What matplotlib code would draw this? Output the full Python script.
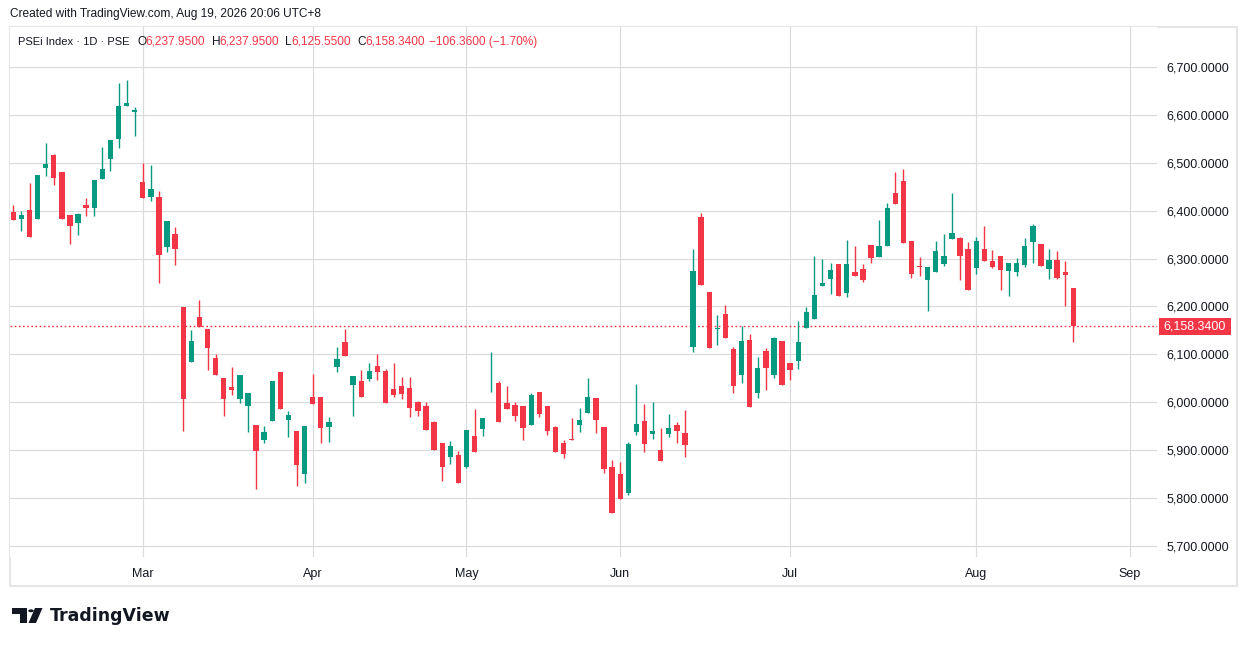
import matplotlib
matplotlib.use("Agg")
import matplotlib.pyplot as plt
from matplotlib.patches import Rectangle, Circle, Polygon
from matplotlib.transforms import blended_transform_factory
from matplotlib.ticker import FuncFormatter

# ---------------- data (PSEi Index daily candles, Feb 2026 - Aug 19 2026) ----------------
opens = [6398, 6382, 6402, 6382, 6490, 6517, 6481, 6390, 6374, 6412, 6405, 6467, 6507, 6549, 6619, 6605,
         6460, 6428, 6429, 6324, 6352, 6199, 6085, 6178, 6153, 6092, 6051, 6032, 6006, 5993, 5953, 5922,
         5960, 6063, 5964, 5940, 5851,
         6011, 6011, 5949, 6074, 6125, 6036, 6044, 6049, 6075, 6065, 6028, 6033, 6029, 6000, 5992, 5958,
         5915, 5886, 5890,
         5865, 5929, 5944, 6033, 6040, 5998, 5994, 5992, 5953, 6022, 5992, 5949, 5915, 5924, 5953, 5978,
         6009, 5949, 5865,
         5851, 5810, 5939, 5961, 5933, 5901, 5933, 5953, 5936, 6116, 6386, 6230, 6153, 6184, 6111, 6058,
         6130, 6020, 6107, 6058, 6128,
         6082, 6087, 6155, 6174, 6243, 6258, 6288, 6228, 6271, 6278, 6328, 6303, 6326, 6436, 6461, 6336,
         6284, 6256, 6272, 6289, 6340, 6342, 6319,
         6281, 6321, 6296, 6306, 6274, 6271, 6287, 6335, 6331, 6279, 6298, 6273, 6237.95]
highs = [6412, 6400, 6458, 6475, 6542, 6519, 6481, 6390, 6396, 6427, 6465, 6533, 6548, 6667, 6673, 6617,
         6499, 6496, 6442, 6379, 6365, 6199, 6151, 6213, 6153, 6100, 6051, 6074, 6057, 6019, 5953, 5951,
         6044, 6063, 5982, 5940, 5951,
         6059, 6011, 5969, 6115, 6152, 6054, 6067, 6081, 6100, 6069, 6081, 6052, 6052, 6002, 6000, 5960,
         5915, 5919, 5898,
         5942, 5986, 5967, 6106, 6044, 6033, 6000, 5992, 6020, 6022, 5992, 5951, 5921, 5967, 5988, 6051,
         6009, 5949, 5880,
         5876, 5917, 6038, 5996, 6001, 5946, 5976, 5959, 5984, 6321, 6396, 6231, 6182, 6203, 6115, 6159,
         6142, 6094, 6113, 6136, 6128,
         6082, 6169, 6199, 6305, 6299, 6290, 6288, 6338, 6326, 6288, 6328, 6380, 6417, 6480, 6488, 6336,
         6303, 6282, 6336, 6351, 6436, 6346, 6334,
         6346, 6369, 6317, 6306, 6290, 6302, 6342, 6373, 6331, 6319, 6315, 6296, 6237.95]
lows = [6380, 6358, 6346, 6382, 6473, 6454, 6382, 6330, 6349, 6388, 6388, 6467, 6482, 6530, 6619, 6555,
        6426, 6421, 6249, 6313, 6286, 5941, 6085, 6158, 6068, 6058, 5972, 6016, 5999, 5937, 5818, 5914,
        5960, 5985, 5928, 5826, 5831,
        5996, 5914, 5918, 6064, 6097, 5972, 6011, 6044, 6046, 5999, 6011, 6007, 5969, 5972, 5942, 5901,
        5836, 5871, 5832,
        5863, 5896, 5930, 6021, 5959, 5986, 5961, 5921, 5953, 5970, 5931, 5897, 5883, 5922, 5939, 5978,
        5935, 5853, 5768,
        5799, 5806, 5931, 5897, 5924, 5878, 5928, 5914, 5885, 6105, 6245, 6114, 6120, 6135, 6020, 6041,
        5991, 6008, 6026, 6051, 6037,
        6047, 6070, 6155, 6174, 6243, 6226, 6222, 6220, 6264, 6251, 6291, 6303, 6326, 6414, 6333, 6260,
        6264, 6191, 6272, 6285, 6340, 6256, 6235,
        6268, 6294, 6280, 6234, 6221, 6263, 6282, 6290, 6285, 6258, 6258, 6202, 6125.55]
closes = [6380, 6390, 6346, 6475, 6498, 6469, 6382, 6367, 6394, 6405, 6465, 6487, 6548, 6619, 6625, 6610,
          6426, 6446, 6307, 6379, 6319, 6006, 6128, 6158, 6114, 6058, 6006, 6026, 6057, 6019, 5899, 5938,
          6044, 5985, 5974, 5870, 5951,
          5996, 5947, 5959, 6090, 6097, 6054, 6011, 6065, 6063, 5999, 6015, 6017, 5988, 5982, 5942, 5901,
          5865, 5908, 5832,
          5942, 5896, 5967, 6035, 5959, 5986, 5972, 5946, 6015, 5976, 5941, 5897, 5893, 5922, 5963, 6011,
          5964, 5860, 5768,
          5799, 5913, 5955, 5912, 5940, 5878, 5946, 5941, 5910, 6274, 6245, 6114, 6155, 6135, 6035, 6128,
          5991, 6071, 6072, 6134, 6037,
          6068, 6126, 6188, 6224, 6249, 6276, 6222, 6288, 6264, 6256, 6301, 6326, 6405, 6414, 6333, 6268,
          6283, 6282, 6315, 6305, 6353, 6305, 6235,
          6336, 6294, 6283, 6276, 6290, 6290, 6327, 6367, 6285, 6298, 6260, 6264.70, 6158.34]

month_labels = ["Mar", "Apr", "May", "Jun", "Jul", "Aug", "Sep"]
month_pos = [16, 37, 56, 75, 96, 119, 138]          # bar index of the first session of each month
price_ticks = [5700, 5800, 5900, 6000, 6100, 6200, 6300, 6400, 6500, 6600, 6700]

symbol_text = "PSEi Index · 1D · PSE"
header_text = "Created with TradingView.com, Aug 19, 2026 20:06 UTC+8"

# ---------------- style ----------------
UP = "#089981"
DOWN = "#F23645"
TXT = "#131722"
GRID = "#dadada"
FONT = ["Liberation Sans", "DejaVu Sans"]
plt.rcParams["font.family"] = FONT

W, H = 1246, 646
fig = plt.figure(figsize=(W / 100, H / 100), dpi=100)
fig.patch.set_facecolor("white")

# plot area in pixels
L_PX, R_PX, T_PX, B_PX = 10, 1157, 27, 557
ax = fig.add_axes([L_PX / W, 1 - B_PX / H, (R_PX - L_PX) / W, (B_PX - T_PX) / H])
ax.set_facecolor("white")

n = len(opens)
idx = list(range(n))
colors = [UP if c >= o else DOWN for o, c in zip(opens, closes)]
bottoms = [min(o, c) for o, c in zip(opens, closes)]
heights = [max(abs(c - o), 1.8) for o, c in zip(opens, closes)]

ax.vlines(idx, lows, highs, colors=colors, linewidth=1.0, zorder=3)
ax.bar(idx, heights, bottom=bottoms, width=0.66, color=colors, linewidth=0, zorder=4)

ax.set_xlim(-0.41, 141.34)
ax.set_ylim(5677.0, 6783.5)

ax.set_yticks(price_ticks)
ax.yaxis.set_major_formatter(FuncFormatter(lambda v, p: f"{v:,.4f}"))
ax.yaxis.tick_right()
ax.set_xticks(month_pos)
ax.set_xticklabels(month_labels)
ax.tick_params(axis="y", length=0, pad=7, labelsize=9, labelcolor=TXT)
ax.tick_params(axis="x", length=0, pad=8, labelsize=9, labelcolor=TXT)
ax.grid(True, color=GRID, linewidth=0.8, zorder=0)
ax.set_axisbelow(True)
for s in ax.spines.values():
    s.set_visible(False)

# last price dotted line and label
last = closes[-1]
ax.axhline(last, color=DOWN, linewidth=1.0, linestyle=(0, (1.2, 1.8)), zorder=2)
bt = blended_transform_factory(fig.transFigure, ax.transData)
box_h = 17 / (0.479)
ax.add_patch(Rectangle((1159 / W, last - box_h / 2), 72 / W, box_h, transform=bt,
                       facecolor=DOWN, edgecolor="none", clip_on=False, zorder=6))
ax.text(1195 / W, last, f"{last:,.4f}", transform=bt, ha="center", va="center",
        color="white", fontsize=9, clip_on=False, zorder=7)

# outer frame
fig.add_artist(Rectangle((10 / W, 1 - 586 / H), 1227 / W, 559 / H, transform=fig.transFigure,
                         facecolor="none", edgecolor="#e6e6e6", linewidth=1.5, zorder=0))

# header
fig.text(10 / W, 1 - 14 / H, header_text, fontsize=8.6, color=TXT, va="center", ha="left")

# legend line
o, h, l, c = opens[-1], highs[-1], lows[-1], closes[-1]
chg = c - closes[-2]
pct = chg / closes[-2] * 100
ly = 1 - 42 / H
LFS = 8.6
fig.text(18 / W, ly, symbol_text, fontsize=8.0, color=TXT, va="center")
for lab, lx, val, vx in [("O", 137.0, o, 145.4), ("H", 211.6, h, 219.0),
                         ("L", 285.0, l, 291.5), ("C", 357.8, c, 365.5)]:
    fig.text(lx / W, ly, lab, fontsize=LFS, color=TXT, va="center")
    fig.text(vx / W, ly, f"{val:,.4f}", fontsize=LFS, color=DOWN, va="center")
fig.text(428.5 / W, ly, f"{chg:,.4f} ({pct:.2f}%)".replace("-", "\u2212"), fontsize=LFS,
         color=DOWN, va="center")

# TradingView logo
def fx(px):
    return px / W


def fy(py):
    return 1 - py / H


logo_col = TXT
fig.add_artist(Polygon([(fx(12), fy(608)), (fx(27), fy(608)), (fx(27), fy(623)), (fx(20), fy(623)),
                        (fx(20), fy(613.5)), (fx(12), fy(613.5))], closed=True,
                       transform=fig.transFigure, facecolor=logo_col, edgecolor="none"))
fig.add_artist(Circle((fx(31), fy(610.8)), 2.8 / W, transform=fig.transFigure,
                      facecolor=logo_col, edgecolor="none"))
fig.add_artist(Polygon([(fx(35), fy(608)), (fx(42.5), fy(608)), (fx(36), fy(623)), (fx(28.5), fy(623))],
                       closed=True, transform=fig.transFigure, facecolor=logo_col, edgecolor="none"))
fig.text(fx(49.5), fy(616), "TradingView", fontsize=12.5, fontweight="bold", color=logo_col,
         va="center", ha="left", family=["DejaVu Sans"])

fig.savefig("out.png", dpi=100, facecolor="white")
